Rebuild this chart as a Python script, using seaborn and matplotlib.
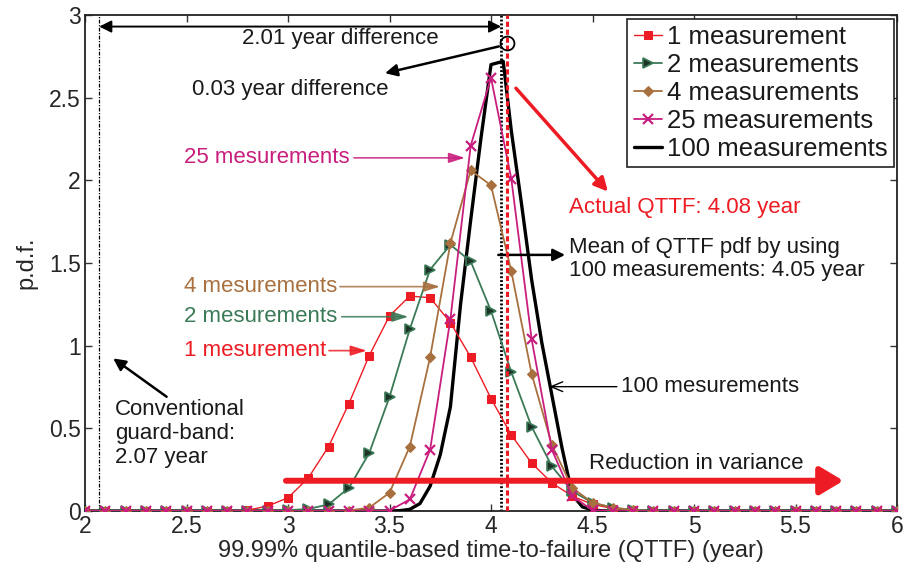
import numpy as np
import pandas as pd
import matplotlib
matplotlib.use("Agg")
import matplotlib.pyplot as plt
from matplotlib.ticker import MultipleLocator, FormatStrFormatter
import seaborn as sns

# QTTF grid (year) on which the pdfs for 1/2/4/25 measurements are evaluated
qttf = np.round(np.arange(2.0, 6.01, 0.1), 1)

pdf_1 = [0, 0, 0, 0, 0, 0, 0, 0,
         0.005, 0.03, 0.08, 0.20, 0.39, 0.65, 0.94, 1.18, 1.30, 1.29, 1.14, 0.93,
         0.68, 0.46, 0.29, 0.17, 0.09, 0.04, 0.015, 0.005,
         0, 0, 0, 0, 0, 0, 0, 0, 0, 0, 0, 0, 0]
pdf_2 = [0, 0, 0, 0, 0, 0, 0, 0, 0, 0,
         0.005, 0.012, 0.04, 0.14, 0.35, 0.69, 1.10, 1.46, 1.61, 1.51,
         1.21, 0.84, 0.51, 0.27, 0.12, 0.05, 0.02, 0.007, 0.002,
         0, 0, 0, 0, 0, 0, 0, 0, 0, 0, 0, 0]
pdf_4 = [0, 0, 0, 0, 0, 0, 0, 0, 0, 0, 0, 0, 0,
         0.003, 0.02, 0.11, 0.39, 0.93, 1.62, 2.06, 1.97, 1.45, 0.83, 0.40,
         0.14, 0.05, 0.02, 0.005,
         0, 0, 0, 0, 0, 0, 0, 0, 0, 0, 0, 0, 0]
pdf_25 = [0, 0, 0, 0, 0, 0, 0, 0, 0, 0, 0, 0, 0, 0, 0,
          0.003, 0.07, 0.37, 1.16, 2.21, 2.62, 2.01, 1.04, 0.37, 0.09, 0.005,
          0, 0, 0, 0, 0, 0, 0, 0, 0, 0, 0, 0, 0, 0, 0]

# 100-measurement pdf (finer sampling around the peak)
qttf_100 = [2.0, 3.5, 3.55, 3.6, 3.65, 3.7, 3.75, 3.8, 3.85, 3.9, 3.95, 4.0, 4.06,
            4.1, 4.15, 4.2, 4.25, 4.3, 4.35, 4.4, 4.45, 4.5, 4.55, 4.6, 6.0]
pdf_100 = [0, 0, 0.002, 0.01, 0.045, 0.15, 0.34, 0.63, 1.25, 1.76, 2.25, 2.70, 2.72,
           2.30, 1.86, 1.40, 1.02, 0.70, 0.38, 0.10, 0.025, 0.006, 0.001, 0, 0]

legend_labels = ["1 measurement", "2 measurements", "4 measurements",
                 "25 measurements", "100 measurements"]

guard_band = 2.07
mean_qttf = 4.05
actual_qttf = 4.08

RED = "#ED1C24"
GREEN = "#3B7A57"
BROWN = "#A8703F"
PINK = "#C81E7E"

sns.set_theme(style="ticks")
plt.rcParams["font.family"] = ["Liberation Sans", "DejaVu Sans"]
plt.rcParams["xtick.direction"] = "in"
plt.rcParams["ytick.direction"] = "in"

fig = plt.figure(figsize=(9.06, 5.69), dpi=100)
ax = fig.add_axes([85 / 906, 58 / 569, 812 / 906, 496 / 569])

df = pd.DataFrame({"qttf": qttf, "p1": pdf_1, "p2": pdf_2, "p4": pdf_4, "p25": pdf_25})
df100 = pd.DataFrame({"qttf": qttf_100, "p100": pdf_100})

sns.lineplot(data=df, x="qttf", y="p1", ax=ax, color=RED, lw=1.0, marker="s",
             markersize=5.5, markeredgecolor=RED, markerfacecolor=RED,
             label=legend_labels[0], zorder=3)
sns.lineplot(data=df, x="qttf", y="p2", ax=ax, color=GREEN, lw=1.3, marker=">",
             markersize=7, markeredgecolor=GREEN, markerfacecolor="#1E3327",
             markeredgewidth=1.2, label=legend_labels[1], zorder=3)
sns.lineplot(data=df, x="qttf", y="p4", ax=ax, color=BROWN, lw=1.3, marker="D",
             markersize=5.5, markeredgecolor=BROWN, markerfacecolor=BROWN,
             label=legend_labels[2], zorder=3)
sns.lineplot(data=df, x="qttf", y="p25", ax=ax, color=PINK, lw=1.3, marker="x",
             markersize=7, markeredgecolor=PINK, markeredgewidth=1.6,
             label=legend_labels[3], zorder=3)
sns.lineplot(data=df100, x="qttf", y="p100", ax=ax, color="black", lw=2.4,
             label=legend_labels[4], zorder=2.9)

# reference lines
ax.axvline(guard_band, color="black", lw=0.9, ls=(0, (3, 1.2, 1, 1.2)), zorder=2)
ax.axvline(mean_qttf, color="black", lw=2.0, ls=(0, (0.7, 0.7)), zorder=2)
ax.axvline(actual_qttf, color=RED, lw=2.2, ls=(0, (1.7, 0.9)), zorder=4)

ax.set_xlim(2, 6)
ax.set_ylim(0, 3)
ax.xaxis.set_major_locator(MultipleLocator(0.5))
ax.yaxis.set_major_locator(MultipleLocator(0.5))
ax.xaxis.set_major_formatter(FormatStrFormatter("%g"))
ax.yaxis.set_major_formatter(FormatStrFormatter("%g"))
ax.tick_params(axis="both", which="major", direction="in", length=5, width=1,
               labelsize=16.5, top=True, right=True, color="#333333", pad=3)
for s in ax.spines.values():
    s.set_linewidth(1.3)
    s.set_color("#222222")
ax.set_xlabel("99.99% quantile-based time-to-failure (QTTF) (year)", fontsize=17,
              labelpad=1)
ax.set_ylabel("p.d.f.", fontsize=17, labelpad=8)

TXT = 16
# difference between guard band and mean QTTF
ax.annotate("", xy=(guard_band, 2.93), xytext=(mean_qttf, 2.93),
            arrowprops=dict(arrowstyle="<|-|>", color="black", lw=1.4,
                            mutation_scale=18, shrinkA=0, shrinkB=0))
ax.text(3.26, 2.86, "2.01 year difference", fontsize=TXT, ha="center", va="center",
        color="#1a1a1a")
ax.plot([4.077], [2.829], marker="o", markersize=10, markerfacecolor="none",
        markeredgecolor="black", markeredgewidth=1.3, zorder=5)
ax.annotate("", xy=(3.478, 2.648), xytext=(4.039, 2.81),
            arrowprops=dict(arrowstyle="-|>", color="black", lw=1.8,
                            mutation_scale=18, shrinkA=0, shrinkB=0))
ax.text(3.01, 2.547, "0.03 year difference", fontsize=TXT, ha="center", va="center",
        color="#1a1a1a")

# actual QTTF
ax.annotate("", xy=(4.576, 1.932), xytext=(4.123, 2.557),
            arrowprops=dict(arrowstyle="-|>", color=RED, lw=2.5,
                            mutation_scale=20, shrinkA=0, shrinkB=0))
ax.text(4.386, 1.837, "Actual QTTF: 4.08 year", fontsize=TXT, ha="left",
        va="center", color=RED)

# mean of QTTF pdf
ax.annotate("", xy=(4.365, 1.549), xytext=(4.036, 1.549),
            arrowprops=dict(arrowstyle="-|>", color="black", lw=1.8,
                            mutation_scale=18, shrinkA=0, shrinkB=0))
ax.text(4.386, 1.595, "Mean of QTTF pdf by using", fontsize=TXT, ha="left",
        va="center", color="#1a1a1a")
ax.text(4.386, 1.455, "100 measurements: 4.05 year", fontsize=TXT, ha="left",
        va="center", color="#1a1a1a")

# series callouts
callouts = [
    ("25 mesurements", PINK, 2.136, 3.325, 3.872),
    ("4 mesurements", BROWN, 1.357, 3.256, 3.749),
    ("2 mesurements", GREEN, 1.175, 3.265, 3.593),
    ("1 mesurement", RED, 0.97, 3.202, 3.388),
]
for label, col, yy, x0, x1 in callouts:
    ax.text(2.49, yy, label, fontsize=TXT, ha="left", va="center", color=col)
    ax.annotate("", xy=(x1, yy), xytext=(x0, yy),
                arrowprops=dict(arrowstyle="-|>,head_length=0.7,head_width=0.22",
                                color=col, lw=1.2, alpha=0.85,
                                mutation_scale=14, shrinkA=0, shrinkB=0))

ax.text(4.64, 0.752, "100 mesurements", fontsize=TXT, ha="left", va="center",
        color="#1a1a1a")
ax.annotate("", xy=(4.287, 0.752), xytext=(4.62, 0.752),
            arrowprops=dict(arrowstyle="->,head_length=0.6,head_width=0.25",
                            color="black", lw=1.0, mutation_scale=14,
                            shrinkA=0, shrinkB=0))

# conventional guard band
ax.text(2.148, 0.47, "Conventional\nguard-band:\n2.07 year", fontsize=TXT,
        ha="left", va="center", color="#1a1a1a", linespacing=1.2)
ax.annotate("", xy=(2.139, 0.923), xytext=(2.402, 0.691),
            arrowprops=dict(arrowstyle="-|>", color="black", lw=1.8,
                            mutation_scale=18, shrinkA=0, shrinkB=0))

# reduction in variance
ax.annotate("", xy=(5.736, 0.183), xytext=(2.99, 0.183),
            arrowprops=dict(arrowstyle="-|>,head_length=0.5,head_width=0.3",
                            color=RED, lw=4.3, mutation_scale=28,
                            shrinkA=0, shrinkB=0), zorder=6)
ax.text(4.484, 0.289, "Reduction in variance", fontsize=TXT, ha="left",
        va="center", color="#1a1a1a")

leg = ax.legend(loc="upper right", bbox_to_anchor=(0.9963, 0.992), fontsize=18.5,
                frameon=True, fancybox=False, framealpha=1, edgecolor="#222222",
                handlelength=1.1, handletextpad=0.2, labelspacing=0.15,
                borderpad=0.25, borderaxespad=0, numpoints=1)
leg.get_frame().set_linewidth(1.2)
for t in leg.get_texts():
    t.set_color("#1a1a1a")

fig.savefig("out.png", dpi=100)
